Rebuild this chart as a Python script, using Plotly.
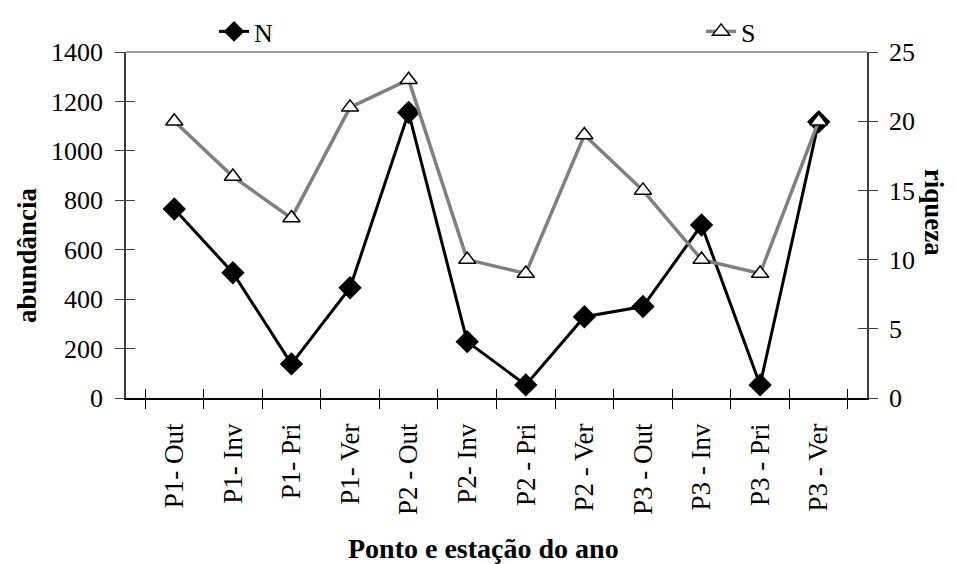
import plotly.graph_objects as go

# Données
categorias = ["P1- Out", "P1- Inv", "P1- Pri", "P1- Ver",
              "P2 - Out", "P2- Inv", "P2 - Pri", "P2 - Ver",
              "P3 - Out", "P3 - Inv", "P3 - Pri", "P3 - Ver"]
abundancia_N = [765, 507, 138, 446, 1155, 228, 53, 329, 370, 700, 53, 1118]
riqueza_S = [20, 16, 13, 21, 23, 10, 9, 19, 15, 10, 9, 20]

serif = "Liberation Serif, Times New Roman, serif"

fig = go.Figure()

fig.add_trace(go.Scatter(
    x=categorias, y=abundancia_N, name="N", mode="lines+markers",
    line=dict(color="black", width=3),
    marker=dict(symbol="diamond", size=18, color="black"),
    yaxis="y", legend="legend"))

fig.add_trace(go.Scatter(
    x=categorias, y=riqueza_S, name="S", mode="lines+markers",
    line=dict(color="#808080", width=3.5),
    marker=dict(symbol="triangle-up", size=15, color="white",
                line=dict(color="black", width=1.5)),
    yaxis="y2", legend="legend2"))

# traces invisibles qui portent les axes de graduations intérieures (ticks croisés)
fig.add_trace(go.Scatter(
    x=categorias, y=abundancia_N, mode="lines", opacity=0, showlegend=False,
    hoverinfo="skip", xaxis="x2", yaxis="y3"))
fig.add_trace(go.Scatter(
    x=categorias, y=riqueza_S, mode="lines", opacity=0, showlegend=False,
    hoverinfo="skip", yaxis="y4"))

leg = dict(xref="container", yref="container", yanchor="top", xanchor="left",
           y=1.0, font=dict(size=26), bgcolor="rgba(0,0,0,0)")

fig.update_layout(
    width=956, height=564,
    margin=dict(l=118, r=97, t=44, b=174, autoexpand=False),
    paper_bgcolor="white", plot_bgcolor="white",
    font=dict(family=serif, size=26, color="black"),
    showlegend=True,
    legend=dict(leg, x=0.2155),
    legend2=dict(leg, x=0.725),
    xaxis=dict(type="category", tickson="boundaries", ticks="outside", ticklen=9,
               tickcolor="black", showline=True, linecolor="black", linewidth=1.5,
               showgrid=False, tickangle=-90, tickfont=dict(size=27),
               ticklabelstandoff=13, automargin=False),
    xaxis2=dict(type="category", tickson="boundaries", ticks="inside", ticklen=9,
                tickcolor="black", showline=False, showgrid=False,
                showticklabels=False, overlaying="x", side="bottom", anchor="y3",
                matches="x"),
    yaxis=dict(range=[0, 1400], dtick=200, ticks="outside", ticklen=9,
               tickcolor="#404040", showline=True, linecolor="#404040", linewidth=1.5,
               showgrid=False, zeroline=False, automargin=False, ticklabelstandoff=7),
    yaxis3=dict(range=[0, 1400], dtick=200, ticks="inside", ticklen=9,
                tickcolor="#404040", showline=False, showgrid=False, zeroline=False,
                showticklabels=False, overlaying="y", side="left"),
    yaxis2=dict(range=[0, 25], dtick=5, overlaying="y", side="right",
                ticks="outside", ticklen=9, tickcolor="#404040", showline=True,
                linecolor="#404040", linewidth=1.5, showgrid=False, zeroline=False,
                automargin=False, ticklabelstandoff=6),
    yaxis4=dict(range=[0, 25], dtick=5, overlaying="y", side="right",
                ticks="inside", ticklen=9, tickcolor="#404040", showline=False,
                showgrid=False, zeroline=False, showticklabels=False),
)

# bordure supérieure grise de la zone de tracé
fig.add_shape(type="line", xref="paper", yref="paper", x0=0, x1=1, y0=1, y1=1,
              line=dict(color="#808080", width=1.5))

# titres des axes
fig.add_annotation(text="<b>abundância</b>", xref="paper", yref="paper",
                   x=0, xshift=-116, y=0.413, textangle=-90, showarrow=False,
                   font=dict(size=27))
fig.add_annotation(text="<b>riqueza</b>", xref="paper", yref="paper",
                   x=1.0, xshift=84, y=0.538, textangle=90, showarrow=False,
                   font=dict(size=27))
fig.add_annotation(text="<b>Ponto e estação do ano</b>", xref="paper", yref="paper",
                   x=0.482, y=-0.434, yanchor="middle", showarrow=False,
                   font=dict(size=28))

fig.write_html("out.html")
